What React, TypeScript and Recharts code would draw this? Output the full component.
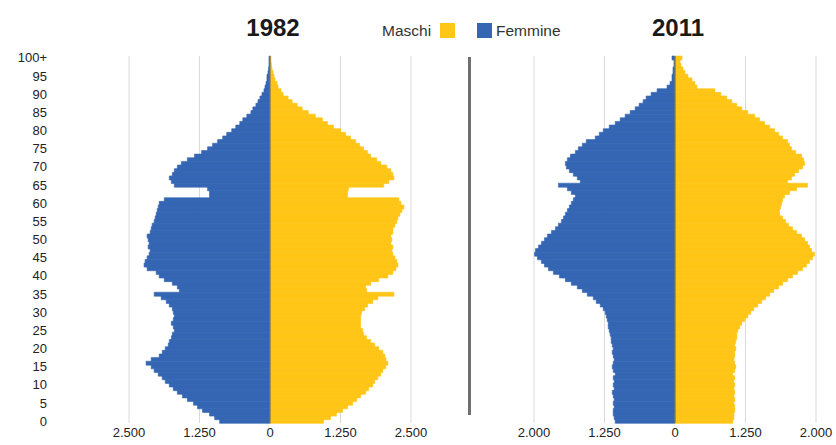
import { Bar, BarChart, CartesianGrid, ReferenceLine, XAxis, YAxis } from 'recharts';

// Population by single year of age, 0 .. 100+
const AGES = Array.from({ length: 101 }, (_, i) => i);

const FEMMINE_1982 = [
  893, 982, 1072, 1197, 1286, 1357, 1465, 1554, 1643, 1715,
  1786, 1857, 1911, 1982, 2054, 2107, 2197, 2107, 1965, 1911,
  1857, 1804, 1786, 1750, 1732, 1697, 1715, 1750, 1715, 1697,
  1715, 1732, 1786, 1840, 1929, 2054, 1607, 1643, 1732, 1875,
  1965, 2018, 2179, 2233, 2215, 2179, 2143, 2125, 2161, 2143,
  2161, 2179, 2125, 2107, 2090, 2054, 2036, 2018, 2000, 1982,
  1965, 1875, 1072, 1072, 1107, 1697, 1750, 1786, 1732, 1697,
  1643, 1572, 1465, 1340, 1214, 1107, 1018, 929, 839, 768,
  679, 607, 536, 482, 411, 339, 304, 250, 214, 179,
  143, 107, 89, 71, 54, 54, 36, 27, 18, 18,
  18,
];

const MASCHI_1982 = [
  947, 1072, 1179, 1286, 1375, 1465, 1536, 1607, 1697, 1750,
  1822, 1857, 1911, 1965, 2000, 2054, 2090, 2054, 2036, 2000,
  1929, 1857, 1786, 1715, 1661, 1643, 1607, 1607, 1607, 1607,
  1625, 1679, 1732, 1822, 1911, 2197, 1715, 1697, 1786, 1929,
  2090, 2179, 2233, 2268, 2250, 2215, 2179, 2161, 2179, 2143,
  2161, 2143, 2179, 2179, 2215, 2250, 2268, 2304, 2340, 2375,
  2322, 2286, 1375, 1375, 1393, 2018, 2107, 2197, 2179, 2143,
  2072, 1965, 1893, 1786, 1732, 1661, 1590, 1518, 1429, 1340,
  1250, 1125, 1018, 929, 804, 679, 571, 482, 393, 321,
  232, 196, 143, 125, 89, 71, 54, 36, 27, 18,
  18,
];

const FEMMINE_2011 = [
  1060, 1078, 1095, 1095, 1078, 1095, 1078, 1095, 1113, 1078,
  1095, 1078, 1095, 1060, 1095, 1113, 1095, 1078, 1095, 1113,
  1095, 1113, 1131, 1131, 1149, 1166, 1184, 1184, 1202, 1219,
  1237, 1272, 1325, 1396, 1449, 1555, 1643, 1732, 1838, 1944,
  2050, 2156, 2244, 2315, 2368, 2438, 2491, 2474, 2421, 2368,
  2315, 2262, 2191, 2120, 2067, 2014, 1979, 1944, 1908, 1873,
  1838, 1802, 1767, 1838, 1908, 2067, 1679, 1732, 1802, 1873,
  1926, 1944, 1908, 1855, 1767, 1714, 1643, 1573, 1414, 1343,
  1272, 1166, 1060, 972, 884, 795, 707, 636, 565, 512,
  424, 318, 141, 88, 53, 53, 35, 35, 18, 18,
  53,
];

const MASCHI_2011 = [
  1025, 1043, 1043, 1060, 1060, 1043, 1060, 1043, 1060, 1043,
  1060, 1043, 1060, 1025, 1060, 1078, 1060, 1043, 1060, 1060,
  1078, 1060, 1078, 1095, 1095, 1113, 1149, 1184, 1237, 1290,
  1343, 1396, 1467, 1537, 1608, 1679, 1749, 1838, 1908, 1997,
  2085, 2173, 2262, 2332, 2385, 2438, 2474, 2421, 2385, 2350,
  2297, 2244, 2156, 2085, 2014, 1961, 1908, 1855, 1855, 1873,
  1891, 1908, 1944, 2032, 2156, 2350, 1997, 2067, 2120, 2191,
  2262, 2297, 2279, 2244, 2138, 2067, 2032, 1997, 1908, 1838,
  1767, 1679, 1590, 1502, 1414, 1290, 1184, 1096, 1007, 919,
  813, 707, 389, 353, 300, 230, 177, 141, 106, 88,
  124,
];

const X_TICKS = [-2500, -1250, 0, 1250, 2500];
const TICK_LABELS_1982 = ['2.500', '1.250', '0', '1.250', '2.500'];
const TICK_LABELS_2011 = ['2.000', '1.250', '0', '1.250', '2.000'];

const YELLOW = '#FFC517';
const BLUE = '#3566B3';
const FONT = "'Liberation Sans', Arial, sans-serif";

function buildRows(femmine: number[], maschi: number[]) {
  return AGES.map((age, i) => ({
    age,
    femmine: -femmine[i],
    maschi: maschi[i],
  }));
}

interface PyramidProps {
  rows: { age: number; femmine: number; maschi: number }[];
  tickLabels: string[];
  showAges: boolean;
  width: number;
  margin: { top: number; right: number; bottom: number; left: number };
}

function Pyramid({ rows, tickLabels, showAges, width, margin }: PyramidProps) {
  return (
    <BarChart
      width={width}
      height={445}
      data={rows}
      layout="vertical"
      stackOffset="sign"
      barCategoryGap={0}
      margin={margin}
    >
      <CartesianGrid horizontal={false} stroke="#D9D9D9" />
      <XAxis
        type="number"
        domain={[-2500, 2500]}
        ticks={X_TICKS}
        axisLine={false}
        tickLine={false}
        height={22}
        tickSize={0}
        tickMargin={5}
        interval={0}
        tick={{ fill: '#222', fontSize: 13, fontFamily: FONT }}
        tickFormatter={(_v: number, i: number) => tickLabels[i]}
      />
      <YAxis
        type="category"
        dataKey="age"
        reversed
        hide={!showAges}
        width={showAges ? 129 - margin.left : 0}
        axisLine={false}
        tickLine={false}
        tickSize={0}
        tickMargin={82}
        interval={4}
        tick={{ fill: '#222', fontSize: 13, fontFamily: FONT }}
        tickFormatter={(v: number) => (v === 100 ? '100+' : String(v))}
      />
      <Bar dataKey="femmine" stackId="p" fill={BLUE} stroke={BLUE} strokeWidth={0.6} isAnimationActive={false} />
      <Bar dataKey="maschi" stackId="p" fill={YELLOW} stroke={YELLOW} strokeWidth={0.6} isAnimationActive={false} />
      <ReferenceLine x={0} stroke="#55606e" strokeWidth={1} />
    </BarChart>
  );
}

export default function App() {
  const rows1982 = buildRows(FEMMINE_1982, MASCHI_1982);
  const rows2011 = buildRows(FEMMINE_2011, MASCHI_2011);

  return (
    <div
      style={{
        position: 'absolute',
        left: 0,
        top: 0,
        width: 836,
        height: 445,
        background: '#FFFFFF',
        fontFamily: FONT,
        overflow: 'hidden',
      }}
    >
      {/* Titles */}
      <div style={{ position: 'absolute', left: 223, top: 14, width: 100, textAlign: 'center', fontSize: 24, fontWeight: 700, color: '#1a1a1a', lineHeight: '28px' }}>
        1982
      </div>
      <div style={{ position: 'absolute', left: 628, top: 14, width: 100, textAlign: 'center', fontSize: 24, fontWeight: 700, color: '#1a1a1a', lineHeight: '28px' }}>
        2011
      </div>

      {/* Legend */}
      <div style={{ position: 'absolute', left: 382, top: 22, fontSize: 15.5, color: '#333', lineHeight: '18px' }}>Maschi</div>
      <div style={{ position: 'absolute', left: 440, top: 23, width: 15, height: 15, background: YELLOW }} />
      <div style={{ position: 'absolute', left: 477, top: 23, width: 15, height: 15, background: BLUE }} />
      <div style={{ position: 'absolute', left: 496, top: 22, fontSize: 15.5, color: '#333', lineHeight: '18px' }}>Femmine</div>

      {/* Separator between the two pyramids */}
      <div style={{ position: 'absolute', left: 468, top: 57, width: 3, height: 358, background: '#6f6f6f' }} />

      <div style={{ position: 'absolute', left: 0, top: 0 }}>
        <Pyramid
          rows={rows1982}
          tickLabels={TICK_LABELS_1982}
          showAges
          width={440}
          margin={{ top: 56, right: 29, bottom: 0, left: 0 }}
        />
      </div>
      <div style={{ position: 'absolute', left: 470, top: 0 }}>
        <Pyramid
          rows={rows2011}
          tickLabels={TICK_LABELS_2011}
          showAges={false}
          width={366}
          margin={{ top: 56, right: 20, bottom: 0, left: 64 }}
        />
      </div>
    </div>
  );
}
